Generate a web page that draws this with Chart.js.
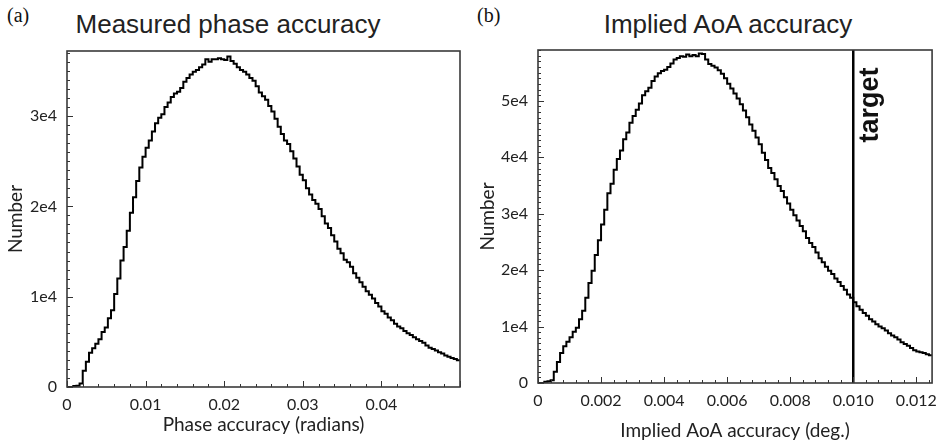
<!DOCTYPE html>
<html>
<head>
<meta charset="utf-8">
<script src="https://cdn.jsdelivr.net/npm/chart.js@4.4.1/dist/chart.umd.min.js"></script>
<style>
body { margin: 0; background: #fff; }
#wrap { position: relative; width: 945px; height: 442px; overflow: hidden; background: #fff; }
.lab { position: absolute; font-family: "Liberation Serif", serif; font-size: 20px; line-height: 20px; color: #111; }
.ttl { position: absolute; font-family: "Liberation Sans", Arial, sans-serif; font-size: 26px; line-height: 26px; color: #222; white-space: nowrap; transform: translateX(-50%); }
canvas { position: absolute; top: 0; }
</style>
</head>
<body>
<div id="wrap">
  <div class="lab" style="left:7px;top:5px">(a)</div>
  <div class="lab" style="left:477px;top:5px">(b)</div>
  <div class="ttl" style="left:228px;top:11px">Measured phase accuracy</div>
  <div class="ttl" style="left:728px;top:11px">Implied AoA accuracy</div>
  <canvas id="phase" width="470" height="442" style="left:0"></canvas>
  <canvas id="aoa" width="475" height="442" style="left:470px"></canvas>
</div>
<script>
// (a) phase accuracy histogram, 125 bins of 0.0004 rad from 0
var phaseBin = 0.0004;
var phaseCounts = [
  0, 0, 100, 150, 400, 1800, 2800, 3800, 4300, 4800,
  5300, 6100, 6600, 7600, 8500, 10300, 12000, 14000, 15500, 17300,
  19300, 21000, 22800, 24300, 25500, 26500, 27300, 28300, 29200, 29800,
  30200, 31000, 31500, 32100, 32500, 32700, 33100, 33800, 34200, 34600,
  34900, 35100, 35400, 35700, 36300, 36000, 36300, 36300, 36400, 36300,
  36200, 36600, 36100, 35800, 35400, 35100, 34900, 34600, 34200, 33900,
  33300, 32600, 32200, 31800, 31100, 30500, 29700, 28800, 28000, 27300,
  26900, 26100, 25300, 24400, 23500, 22900, 22000, 21300, 20700, 20300,
  19700, 18900, 18100, 17600, 16800, 16100, 15300, 14800, 14100, 13800,
  13300, 12600, 12100, 11600, 11100, 10600, 10200, 9800, 9300, 8900,
  8400, 8100, 7700, 7400, 7000, 6700, 6500, 6200, 5950, 5750,
  5500, 5300, 5100, 4900, 4600, 4350, 4200, 4050, 3850, 3700,
  3500, 3350, 3200, 3100, 2950
];
var phaseXTicks = [0, 0.01, 0.02, 0.03, 0.04];
var phaseYTicks = [0, 10000, 20000, 30000];

// (b) implied AoA accuracy histogram, 125 bins of 0.0001 deg from 0
var aoaBin = 0.0001;
var aoaCounts = [
  0, 0, 200, 300, 500, 2000, 3700, 5300, 6500, 7300,
  8100, 9100, 9800, 11300, 12800, 15100, 17700, 19900, 22700, 25300,
  28100, 30700, 33600, 35300, 37800, 39700, 41200, 43200, 44400, 46100,
  47300, 48400, 49500, 51000, 51700, 52300, 53500, 54300, 54900, 55300,
  55500, 56000, 56600, 57300, 57600, 57900, 57800, 58200, 57900, 58100,
  57900, 58400, 58300, 57300, 56500, 56200, 55900, 55400, 54800, 54000,
  53000, 52200, 51300, 50400, 49400, 48300, 47100, 45800, 44700, 43500,
  42300, 40800, 39500, 38100, 37200, 36100, 34900, 34000, 32900, 31800,
  30700, 29700, 28800, 27800, 26900, 25700, 24800, 24100, 23100, 22100,
  21400, 20600, 19900, 19300, 18500, 17900, 17200, 16500, 15700, 15100,
  14300, 13600, 13000, 12400, 11900, 11300, 10900, 10400, 10000, 9700,
  9300, 8800, 8400, 8100, 7700, 7200, 6900, 6600, 6200, 5800,
  5600, 5450, 5300, 5100, 4900
];
var aoaXTicks = [0, 0.002, 0.004, 0.006, 0.008, 0.010, 0.012];
var aoaYTicks = [0, 10000, 20000, 30000, 40000, 50000];
var aoaTarget = 0.010;

var tickFont = { family: 'Lato', size: 16 };
var titleFont = { family: 'Lato', size: 19 };
var inkColor = '#222';

// histogram as a step line: one point per bin left edge, plus the closing edge
function binsToSteps(counts, bin) {
  var pts = counts.map(function (c, i) { return { x: i * bin, y: c }; });
  pts.push({ x: counts.length * bin, y: counts[counts.length - 1] });
  return pts;
}

// box round the plot plus small inward ticks, like the original figure
var frameTicks = {
  id: 'frameTicks',
  afterDatasetsDraw: function (chart, args, o) {
    var ctx = chart.ctx, a = chart.chartArea;
    var xs = chart.scales.x, ys = chart.scales.y;
    ctx.save();
    ctx.strokeStyle = '#333';
    ctx.lineWidth = 1;
    ctx.beginPath();
    for (var i = 0; i * o.xMinor <= xs.max + 1e-12; i++) {
      var px = Math.round(xs.getPixelForValue(i * o.xMinor)) + 0.5;
      var len = (i % o.xEvery === 0) ? 6 : 3;
      ctx.moveTo(px, a.bottom); ctx.lineTo(px, a.bottom - len);
    }
    for (var j = 0; j * o.yMinor <= ys.max; j++) {
      var py = Math.round(ys.getPixelForValue(j * o.yMinor)) + 0.5;
      var l2 = (j % o.yEvery === 0) ? 6 : 3;
      ctx.moveTo(a.left, py); ctx.lineTo(a.left + l2, py);
    }
    ctx.stroke();
    ctx.lineWidth = 1.6;
    ctx.strokeStyle = '#3a3a3a';
    ctx.strokeRect(a.left, a.top, a.right - a.left, a.bottom - a.top);
    if (o.label) {
      ctx.fillStyle = '#111';
      ctx.font = 'bold 27px "Liberation Sans", Arial, sans-serif';
      ctx.textAlign = 'center';
      ctx.textBaseline = 'middle';
      ctx.translate(xs.getPixelForValue(o.labelX) + 17, a.top + 55);
      ctx.rotate(-Math.PI / 2);
      ctx.fillText(o.label, 0, 0);
    }
    ctx.restore();
  }
};

function makeChart(id, cfg) {
  return new Chart(document.getElementById(id).getContext('2d'), {
    type: 'line',
    data: { datasets: cfg.datasets },
    plugins: [frameTicks],
    options: {
      responsive: false,
      animation: false,
      devicePixelRatio: 1,
      layout: { padding: cfg.padding },
      plugins: {
        legend: { display: false },
        tooltip: { enabled: false },
        frameTicks: cfg.marks
      },
      scales: {
        x: {
          type: 'linear',
          min: 0,
          max: cfg.xMax,
          afterFit: function (s) { s.height = cfg.xHeight; },
          afterBuildTicks: function (s) { s.ticks = cfg.xTicks.map(function (v) { return { value: v }; }); },
          grid: { display: false, drawTicks: false },
          border: { display: false },
          ticks: {
            padding: cfg.xPad,
            maxRotation: 0,
            autoSkip: false,
            color: inkColor,
            font: tickFont,
            callback: function (v) { return v === 0 ? '0' : v.toFixed(cfg.xDigits); }
          },
          title: { display: true, text: cfg.xTitle, color: inkColor, font: titleFont, padding: { top: 0, bottom: cfg.xTitlePad } }
        },
        y: {
          min: 0,
          max: cfg.yMax,
          afterFit: function (s) { s.width = cfg.yWidth; },
          afterBuildTicks: function (s) { s.ticks = cfg.yTicks.map(function (v) { return { value: v }; }); },
          grid: { display: false, drawTicks: false },
          border: { display: false },
          ticks: {
            padding: cfg.yPad,
            color: inkColor,
            font: tickFont,
            callback: function (v) { return v === 0 ? '0' : (v / 10000) + 'e4'; }
          },
          title: { display: true, text: 'Number', color: inkColor, font: titleFont, padding: { top: cfg.yTitlePad, bottom: 0 } }
        }
      }
    }
  });
}

var lineStyle = { borderColor: '#000', borderWidth: 2, pointRadius: 0, fill: false, stepped: 'before', tension: 0 };

makeChart('phase', {
  datasets: [Object.assign({ label: 'Measured phase accuracy', data: binsToSteps(phaseCounts, phaseBin) }, lineStyle)],
  padding: { left: 0, right: 10, top: 51, bottom: 0 },
  xMax: 0.05, yMax: 37200,
  xTicks: phaseXTicks, yTicks: phaseYTicks, xDigits: 2,
  xHeight: 55, yWidth: 67, xPad: 8, yPad: 10, xTitlePad: 6, yTitlePad: 4,
  xTitle: 'Phase accuracy (radians)',
  marks: { xMinor: 0.002, xEvery: 5, yMinor: 1000, yEvery: 10 }
});

makeChart('aoa', {
  datasets: [
    Object.assign({ label: 'Implied AoA accuracy', data: binsToSteps(aoaCounts, aoaBin) }, lineStyle),
    { label: 'target', data: [{ x: aoaTarget, y: 0 }, { x: aoaTarget, y: 59000 }], borderColor: '#000', borderWidth: 2.5, pointRadius: 0, fill: false }
  ],
  padding: { left: 0, right: 6, top: 50, bottom: 0 },
  xMax: 0.0125, yMax: 59000,
  xTicks: aoaXTicks, yTicks: aoaYTicks, xDigits: 3,
  xHeight: 59, yWidth: 68, xPad: 8, yPad: 10, xTitlePad: 0, yTitlePad: 6,
  xTitle: 'Implied AoA accuracy (deg.)',
  marks: { xMinor: 0.0004, xEvery: 5, yMinor: 1000, yEvery: 10, label: 'target', labelX: aoaTarget }
});
</script>
</body>
</html>
